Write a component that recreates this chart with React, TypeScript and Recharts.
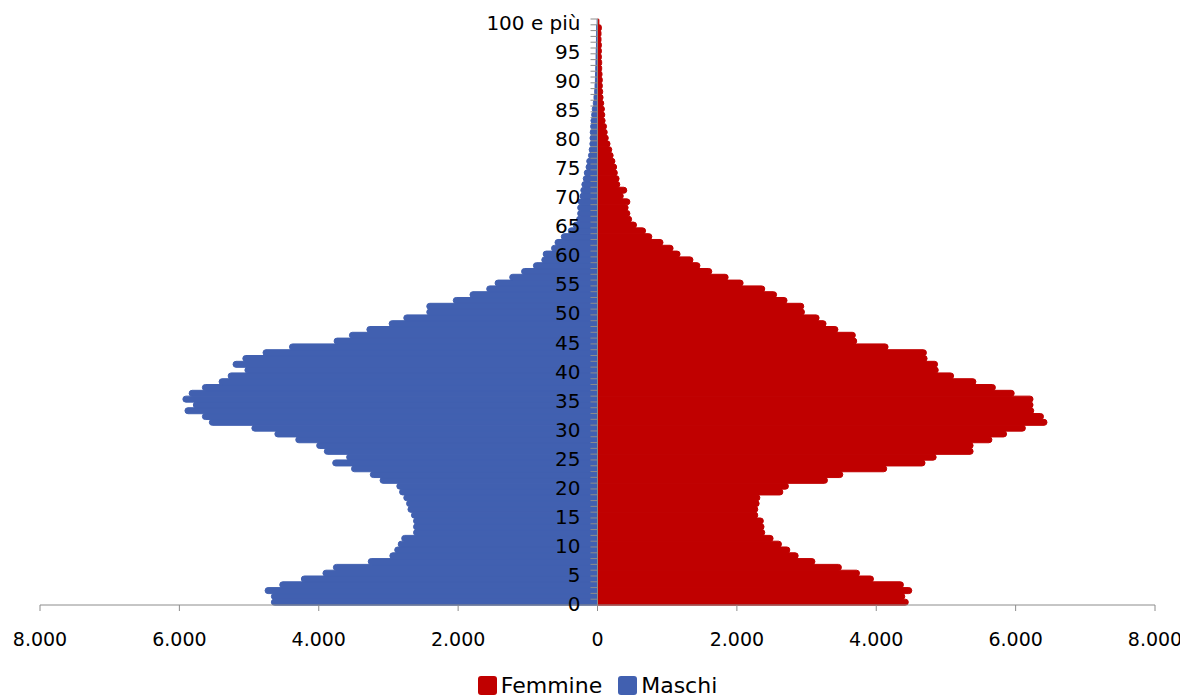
import { Bar, BarChart, LabelList, Legend, ReferenceLine, XAxis, YAxis } from 'recharts'

// classi di età, dal basso (0) verso l'alto (100 e più)
const ages = [
  '0', '1', '2', '3', '4', '5', '6', '7', '8', '9',
  '10', '11', '12', '13', '14', '15', '16', '17', '18', '19',
  '20', '21', '22', '23', '24', '25', '26', '27', '28', '29',
  '30', '31', '32', '33', '34', '35', '36', '37', '38', '39',
  '40', '41', '42', '43', '44', '45', '46', '47', '48', '49',
  '50', '51', '52', '53', '54', '55', '56', '57', '58', '59',
  '60', '61', '62', '63', '64', '65', '66', '67', '68', '69',
  '70', '71', '72', '73', '74', '75', '76', '77', '78', '79',
  '80', '81', '82', '83', '84', '85', '86', '87', '88', '89',
  '90', '91', '92', '93', '94', '95', '96', '97', '98', '99',
  '100 e più',
]

const maschi = [
  4680, 4680, 4770, 4560, 4250, 3940, 3790, 3290, 2980, 2910,
  2860, 2810, 2640, 2640, 2640, 2670, 2720, 2740, 2780, 2840,
  2880, 3120, 3260, 3530, 3800, 3600, 3920, 4030, 4330, 4630,
  4960, 5570, 5670, 5920, 5800, 5950, 5860, 5670, 5430, 5300,
  5060, 5230, 5090, 4800, 4420, 3780, 3560, 3310, 2990, 2780,
  2450, 2450, 2070, 1830, 1590, 1470, 1260, 1090, 920, 800,
  780, 660, 610, 520, 420, 350, 300, 285, 285, 275,
  250, 240, 225, 205, 190, 165, 155, 130, 120, 110,
  108, 105, 100, 95, 85, 75, 60, 50, 40, 35,
  30, 28, 25, 22, 20, 18, 15, 15, 12, 12,
  5,
]

const femmine = [
  4460, 4410, 4510, 4390, 3960, 3760, 3500, 3120, 2880, 2760,
  2640, 2520, 2400, 2390, 2380, 2300, 2300, 2320, 2330, 2660,
  2740, 3300, 3520, 4150, 4700, 4860, 5390, 5390, 5660, 5870,
  6140, 6450, 6400, 6260, 6250, 6250, 5980, 5710, 5430, 5110,
  4890, 4880, 4730, 4720, 4170, 3720, 3700, 3450, 3280, 3180,
  2970, 2960, 2720, 2570, 2400, 2090, 1875, 1640, 1470, 1370,
  1185, 1085, 940, 780, 690, 560, 490, 465, 440, 465,
  370, 420, 320, 310, 285, 275, 250, 225, 205, 180,
  155, 140, 130, 110, 105, 100, 90, 80, 75, 70,
  70, 65, 60, 60, 55, 55, 55, 50, 50, 55,
  20,
]

const xTicks = [-8000, -6000, -4000, -2000, 0, 2000, 4000, 6000, 8000]
const seriesNames = ['Femmine', 'Maschi']
const seriesColors = ['#C00000', '#4160B0']

const data = ages.map((age, i) => ({ age, maschi: -maschi[i], femmine: femmine[i] }))

const FONT = '"DejaVu Sans", Verdana, sans-serif'
const AXIS = '#8c8c8c'

const fmt = (v: number) => String(Math.abs(v)).replace(/\B(?=(\d{3})+(?!\d))/g, '.')

// etichette e tacche dell'asse delle età, agganciate all'inizio delle barre femminili (x = 0)
const AgeAxis = (props: any) => {
  const vb = props.viewBox ?? props
  const { x, y, height } = vb
  const label = String(props.value)
  const show = label === '100 e più' || Number(label) % 5 === 0
  return (
    <g>
      <line x1={x - 7} x2={x} y1={y} y2={y} stroke={AXIS} strokeWidth={1} />
      {show && (
        <text x={x - 17} y={y + height / 2} dy="0.42em" textAnchor="end" fontSize={20} fill="#000" fontFamily={FONT}>
          {label}
        </text>
      )}
    </g>
  )
}

const renderLegend = () => (
  <div style={{ display: 'flex', justifyContent: 'center', alignItems: 'center', fontFamily: FONT, fontSize: 22, color: '#000', height: 26 }}>
    {seriesNames.map((name, i) => (
      <div key={name} style={{ display: 'flex', alignItems: 'center', marginLeft: i ? 16 : 0 }}>
        <span style={{ width: 19, height: 19, borderRadius: 3, background: seriesColors[i], marginRight: 4 }} />
        <span>{name}</span>
      </div>
    ))}
  </div>
)

export default function App() {
  return (
    <BarChart
      width={1180}
      height={690}
      data={data}
      layout="vertical"
      stackOffset="sign"
      barCategoryGap={0}
      margin={{ top: 11, right: 33, bottom: 0, left: 32 }}
      style={{ fontFamily: FONT }}
    >
      <XAxis
        type="number"
        domain={[-8000, 8000]}
        ticks={xTicks}
        interval={0}
        tickFormatter={fmt}
        stroke={AXIS}
        tick={{ fill: '#000', fontSize: 19 }}
        tickSize={6}
        tickMargin={22}
        height={67}
      />
      <YAxis type="category" dataKey="age" reversed hide />
      <Bar dataKey="maschi" name="Maschi" stackId="p" fill={seriesColors[1]} stroke={seriesColors[1]} strokeWidth={1} radius={[0, 3, 3, 0]} isAnimationActive={false} />
      <Bar dataKey="femmine" name="Femmine" stackId="p" fill={seriesColors[0]} stroke={seriesColors[0]} strokeWidth={1} radius={[0, 3, 3, 0]} isAnimationActive={false}>
        <LabelList dataKey="age" content={AgeAxis} />
      </Bar>
      <ReferenceLine x={0} stroke={AXIS} strokeWidth={1} />
      <Legend verticalAlign="bottom" height={26} content={renderLegend} />
    </BarChart>
  )
}
